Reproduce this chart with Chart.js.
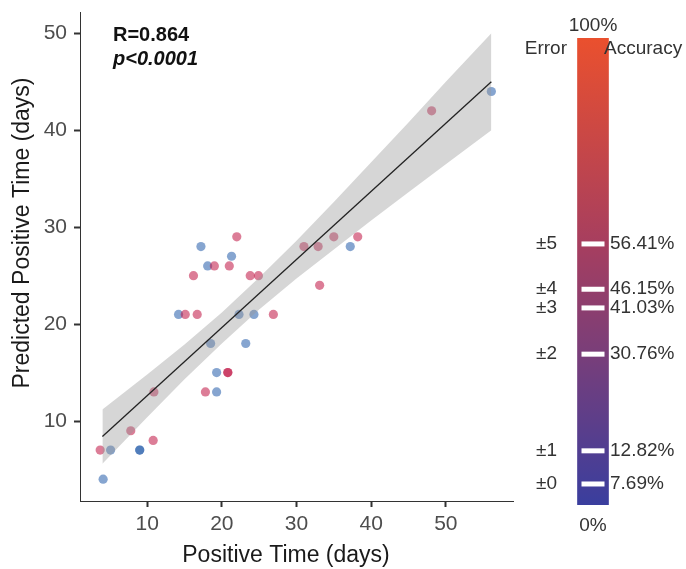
<!DOCTYPE html>
<html><head><meta charset="utf-8">
<script src="https://cdn.jsdelivr.net/npm/chart.js@4.4.1/dist/chart.umd.min.js"></script>
<style>
html,body{margin:0;padding:0;background:#fff;}
#wrap{position:relative;width:686px;height:569px;overflow:hidden;}
#c1{position:absolute;left:0;top:0;}
#c2{position:absolute;left:500px;top:0;}
</style></head><body>
<div id="wrap">
<canvas id="c1" width="520" height="569"></canvas>
<canvas id="c2" width="186" height="569"></canvas>
</div>
<script>
// ---- data ----
const blueX = [17.2,21.3,18.1,14.2,22.3,24.3,37.2,5.1,9.0,9.0,4.1,18.5,23.2,19.3,19.3,56.1];
const blueY = [28,27,26,21,21,21,28,7,7,7,4,18,18,15,13,44];
const pinkX = [22.0,19.0,21.0,16.2,23.8,24.9,15.1,16.7,26.9,35.0,38.2,31.0,32.9,33.1,10.9,17.8,7.8,10.8,3.7,20.8,20.8,48.1];
const pinkY = [29,26,26,25,25,25,21,21,21,29,29,28,28,24,13,13,9,8,7,15,15,42];
const fitX = [4.0, 56.1];
const fitY = [8.4, 45.0];
const bandX = [4,10,15,20,25,30,35,40,45,50,56.1];
const bandUpper = [11.2,14.8,17.9,21.2,24.8,28.6,32.6,36.7,40.8,45.0,50.0];
const bandLower = [5.6,10.4,14.3,18.0,21.5,24.7,27.7,30.7,33.6,36.5,40.0];
const xTicks = [10,20,30,40,50];
const yTicks = [10,20,30,40,50];
const xTitle = 'Positive Time (days)';
const yTitle = 'Predicted Positive Time (days)';
const statLines = ['R=0.864','p<0.0001'];
// color bar
const markerPos = [55.9,46.2,42.2,32.3,11.6,4.5];
const errLabels = ['±5','±4','±3','±2','±1','±0'];
const accLabels = ['56.41%','46.15%','41.03%','30.76%','12.82%','7.69%'];
const barTopLabel = '100%', barBottomLabel = '0%';

const FONT = "'Liberation Sans', Arial, sans-serif";
Chart.defaults.font.family = FONT;

const pts = (xs, ys) => xs.map((x,i)=>({x, y: ys[i]}));

const textPlugin = {
  id:'texts',
  afterDraw(chart){
    const c = chart.ctx;
    c.save();
    c.fillStyle = '#111';
    c.textAlign = 'left';
    c.textBaseline = 'alphabetic';
    c.font = 'bold 20px ' + FONT;
    c.fillText(statLines[0], 113, 41);
    c.font = 'italic bold 20px ' + FONT;
    c.fillText(statLines[1], 113, 65);
    // axis titles
    c.fillStyle = '#1a1a1a';
    c.font = '23px ' + FONT;
    c.textAlign = 'center';
    c.fillText(xTitle, 286, 562);
    c.translate(29, 233);
    c.rotate(-Math.PI/2);
    c.fillText(yTitle, 0, 0);
    c.restore();
  }
};

const tickGrid = {display:true, drawOnChartArea:false, drawTicks:true, tickLength:6, tickWidth:2, tickColor:'#333'};

new Chart(document.getElementById('c1'), {
  type:'scatter',
  data:{datasets:[
    {label:'fit', data: pts(fitX, fitY), showLine:true, borderColor:'#222', borderWidth:1.3, pointRadius:0, order:1},
    {label:'lower', data: pts(bandX, bandLower), showLine:true, borderWidth:0, borderColor:'rgba(0,0,0,0)', pointRadius:0, fill:false, order:2},
    {label:'upper', data: pts(bandX, bandUpper), showLine:true, borderWidth:0, borderColor:'rgba(0,0,0,0)', pointRadius:0, fill:'-1', backgroundColor:'rgba(153,153,153,0.4)', order:2},
    {label:'pink', data: pts(pinkX, pinkY), pointRadius:4.6, pointBorderWidth:0, backgroundColor:'rgba(193,24,70,0.56)', order:3},
    {label:'blue', data: pts(blueX, blueY), pointRadius:4.6, pointBorderWidth:0, backgroundColor:'rgba(40,95,172,0.56)', order:3}
  ]},
  options:{
    responsive:false, animation:false, devicePixelRatio:1,
    layout:{padding:{top:12,right:7,left:0,bottom:0}},
    plugins:{legend:{display:false}, tooltip:{enabled:false}},
    scales:{
      x:{type:'linear', min:1, max:59,
        afterBuildTicks:s=>{s.ticks = xTicks.map(v=>({value:v}));},
        afterFit:s=>{s.height = 68; s.paddingLeft = 0; s.paddingRight = 0;},
        ticks:{font:{size:21}, color:'#4D4D4D', padding:5},
        grid:tickGrid, border:{display:true, color:'#333', width:1},
        title:{display:false}
      },
      y:{type:'linear', min:1.75, max:52.2,
        afterBuildTicks:s=>{s.ticks = yTicks.map(v=>({value:v}));},
        afterFit:s=>{s.width = 80; s.paddingTop = 0; s.paddingBottom = 0;},
        ticks:{font:{size:21}, color:'#4D4D4D', padding:7},
        grid:tickGrid, border:{display:true, color:'#333', width:1},
        title:{display:false}
      }
    }
  },
  plugins:[textPlugin]
});

const barLabelPlugin = {
  id:'barLabels',
  afterDraw(chart){
    const c = chart.ctx, y = chart.scales.y, a = chart.chartArea;
    const cx = (a.left + a.right)/2;
    c.save();
    c.fillStyle = '#333';
    c.font = '19px ' + FONT;
    c.textBaseline = 'middle';
    markerPos.forEach((p,i)=>{
      const py = y.getPixelForValue(p);
      c.textAlign = 'right'; c.fillText(errLabels[i], 57, py);
      c.textAlign = 'left'; c.fillText(accLabels[i], 110, py);
    });
    c.textAlign = 'center';
    c.fillText(barTopLabel, cx, y.getPixelForValue(100) - 12);
    c.fillText(barBottomLabel, cx, y.getPixelForValue(0) + 21);
    const ty = y.getPixelForValue(100) + 11;
    c.textAlign = 'right'; c.fillText('Error', 67, ty);
    c.textAlign = 'left'; c.fillText('Accuracy', 104, ty);
    c.restore();
  }
};

new Chart(document.getElementById('c2'), {
  type:'bar',
  data:{labels:['cb'], datasets:[
    {type:'line', data: markerPos.map(p=>({x:'cb', y:p})), showLine:false, pointStyle:'line',
     pointRadius:11.5, pointBorderWidth:5, pointBorderColor:'#fff', pointBackgroundColor:'#fff', order:0},
    {type:'bar', data:[[0,100]], barThickness:31, borderWidth:0, order:1,
     backgroundColor:(ctx)=>{
       const ch = ctx.chart, a = ch.chartArea;
       if(!a) return 'rgb(150,60,100)';
       const g = ch.ctx.createLinearGradient(0, a.top, 0, a.bottom);
       g.addColorStop(0, 'rgb(234,80,46)');
       g.addColorStop(0.45, 'rgb(165,62,96)');
       g.addColorStop(1, 'rgb(58,62,158)');
       return g;
     }}
  ]},
  options:{
    responsive:false, animation:false, devicePixelRatio:1,
    layout:{padding:{top:38,bottom:64,left:0,right:15}},
    plugins:{legend:{display:false}, tooltip:{enabled:false}},
    scales:{x:{display:false}, y:{display:false, min:0, max:100}}
  },
  plugins:[barLabelPlugin]
});
</script>
</body></html>
